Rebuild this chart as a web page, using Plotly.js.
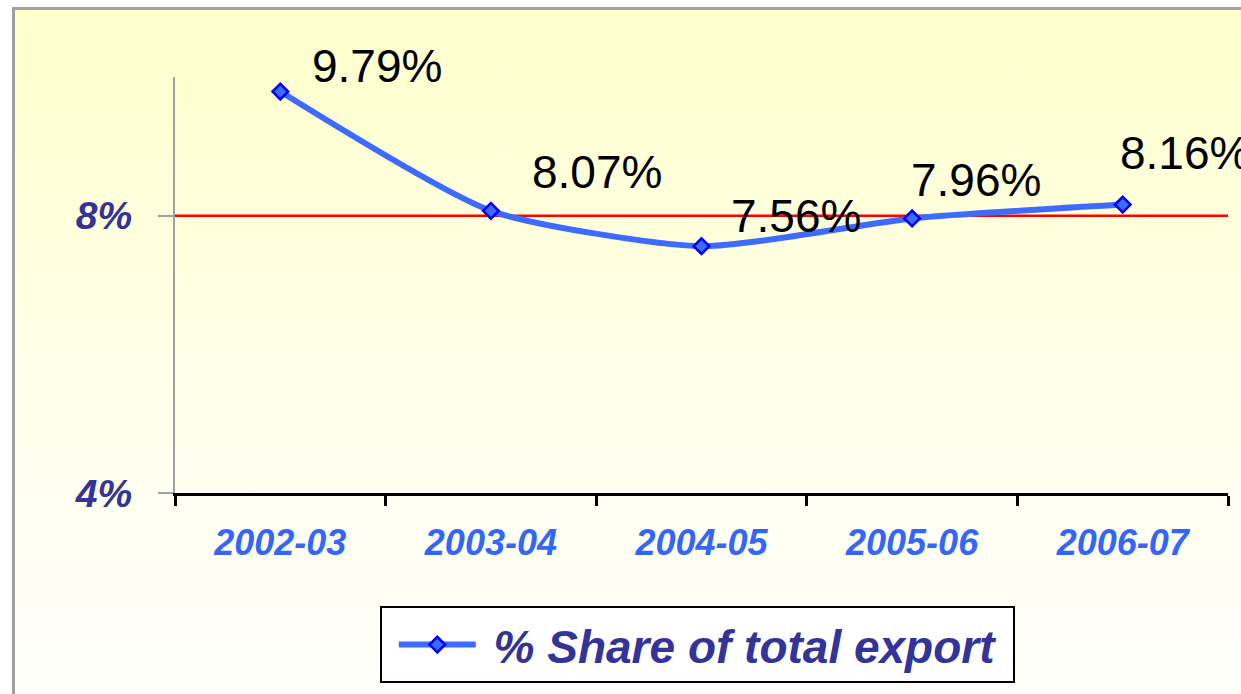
<!DOCTYPE html>
<html>
<head>
<meta charset="utf-8">
<script src="https://cdn.plot.ly/plotly-3.0.1.min.js"></script>
<style>
  html, body { margin: 0; padding: 0; background: #ffffff; }
  #wrap { position: relative; width: 1241px; height: 694px; overflow: hidden; background: #ffffff; }
  #frame { position: absolute; left: 12px; top: 7px; width: 1300px; height: 760px;
           border-left: 3px solid #a0a0a0; border-top: 3px solid #a0a0a0;
           background: linear-gradient(to bottom, #ffffcc 0%, #fffff0 60%, #ffffff 100%); }
  #chart { position: absolute; left: 0; top: 0; width: 1241px; height: 694px; }
</style>
</head>
<body>
<div id="wrap">
  <div id="frame"></div>
  <div id="chart"></div>
</div>
<script>
// ---- data ----
const categories = ['2002-03', '2003-04', '2004-05', '2005-06', '2006-07'];
const shareValues = [9.79, 8.07, 7.56, 7.96, 8.16];
const yTickValues = [4, 8];
const yTickLabels = ['4%', '8%'];
const seriesName = '% Share of total export';
const referenceLevel = 8;

// ---- label placement (layout) ----
const labelShiftX = [97, 106, 94, 64, 62];
const labelShiftY = [26, 39, 30, 38, 52];

const font = 'Liberation Sans, Arial, Helvetica, sans-serif';

const trace = {
  type: 'scatter',
  mode: 'lines+markers',
  x: categories,
  y: shareValues,
  name: '\u00a0' + seriesName + '\u00a0',
  line: { color: '#3d6bff', width: 6, shape: 'spline', smoothing: 0.6 },
  marker: { symbol: 'diamond', size: 12, color: '#3d6bff', line: { color: '#0000ff', width: 2.5 } },
  hoverinfo: 'skip'
};

const annotations = categories.map((c, i) => ({
  x: c, y: shareValues[i], xref: 'x', yref: 'y',
  text: shareValues[i].toFixed(2) + '%',
  showarrow: false, xanchor: 'center', yanchor: 'middle',
  xshift: labelShiftX[i], yshift: labelShiftY[i],
  font: { family: font, size: 46, color: '#000000' }
}));

const layout = {
  width: 1241, height: 694,
  margin: { l: 175, r: 13, t: 77, b: 200 },
  paper_bgcolor: 'rgba(0,0,0,0)',
  plot_bgcolor: 'rgba(0,0,0,0)',
  showlegend: true,
  legend: {
    x: 0.496, xanchor: 'center', y: -0.269, yanchor: 'top',
    bgcolor: '#ffffff', bordercolor: '#000000', borderwidth: 2,
    font: { family: font, size: 46, color: '#333399', weight: 'bold', style: 'italic' },
    itemwidth: 77,
    indentation: 12
  },
  xaxis: {
    type: 'category',
    range: [-0.5, 4.5],
    tickson: 'boundaries',
    showline: true, linecolor: '#000000', linewidth: 3,
    ticks: 'outside', ticklen: 10, tickwidth: 3, tickcolor: '#000000',
    showgrid: false, zeroline: false,
    ticklabelstandoff: 16,
    tickfont: { family: font, size: 36, color: '#3366ff', weight: 'bold', style: 'italic' },
    fixedrange: true
  },
  yaxis: {
    range: [4, 10],
    tickvals: yTickValues, ticktext: yTickLabels,
    showline: true, linecolor: '#a0a0a0', linewidth: 2,
    ticks: 'outside', ticklen: 15, tickwidth: 2, tickcolor: '#a0a0a0',
    showgrid: false, zeroline: false,
    ticklabelstandoff: 18,
    tickfont: { family: font, size: 39, color: '#333399', weight: 'bold', style: 'italic' },
    fixedrange: true
  },
  shapes: [{
    type: 'line', xref: 'paper', yref: 'y', x0: 0, x1: 1,
    y0: referenceLevel, y1: referenceLevel,
    line: { color: '#ff0000', width: 2.5 }, layer: 'below'
  }],
  annotations: annotations
};

Plotly.newPlot('chart', [trace], layout, { displayModeBar: false, staticPlot: true });
</script>
</body>
</html>
